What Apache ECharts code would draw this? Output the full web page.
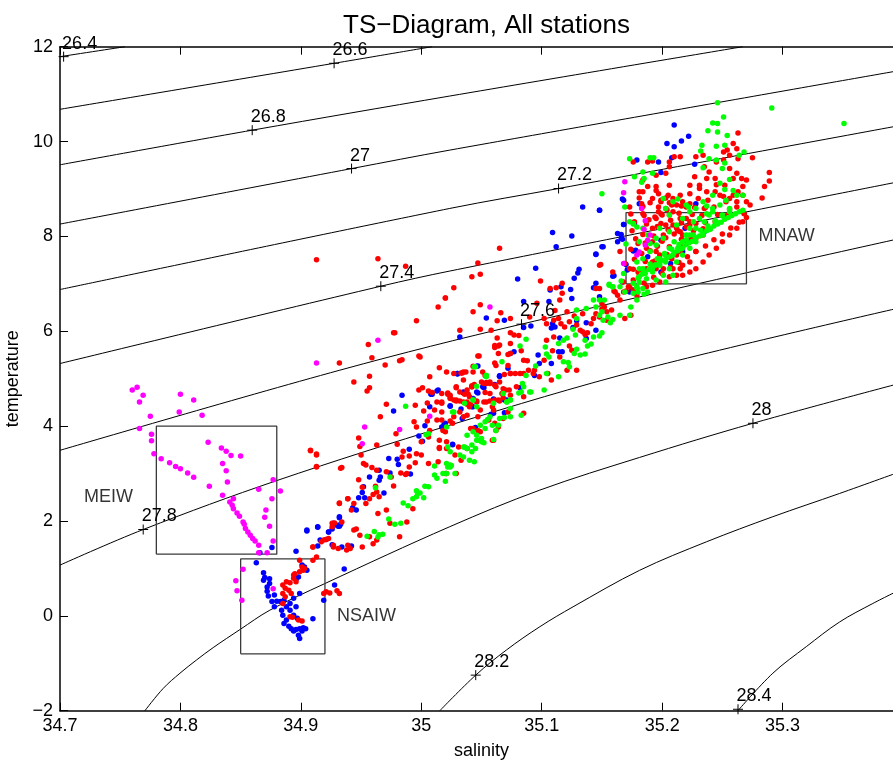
<!DOCTYPE html>
<html><head><meta charset="utf-8">
<script src="https://cdn.jsdelivr.net/npm/echarts@6/dist/echarts.min.js"></script>
<style>html,body{margin:0;padding:0;background:#fff}#c{width:893px;height:760px}</style>
</head><body><div id="c"></div>
<script>
// ---------- axis ranges ----------
const salinityRange = [34.7, 35.4];
const temperatureRange = [-2, 12];

// ---------- isopycnal contours (sigma-theta) ----------
const isoLevels = ['26.4','26.6','26.8','27','27.2','27.4','27.6','27.8','28','28.2','28.4'];
const iso264 = [[34.7,11.79],[34.754,12.0]];
const iso266 = [[34.7,10.68],[34.9276,11.65],[35.009,12.0]];
const iso268 = [[34.7,9.51],[34.8596,10.24],[35.0237,10.96],[35.267,12.0]];
const iso270 = [[34.7,8.26],[34.9421,9.43],[35.0237,9.82],[35.4,11.51]];
const iso272 = [[34.7,6.88],[35.0237,8.59],[35.114,9.01],[35.4,10.35]];
const iso274 = [[34.7,5.32],[34.9664,6.95],[35.0237,7.27],[35.4,9.17]];
const iso276 = [[34.7,3.49],[34.9324,5.18],[35.0832,6.15],[35.4,7.97]];
const iso278 = [[34.7,1.07],[34.7691,1.82],[34.8798,2.85],[35.0237,4.02],[35.1813,5.18],[35.4,6.51]];
const iso280 = [[34.7705,-2.0],[34.7857,-1.53],[34.7996,-1.21],[34.8134,-0.93],[34.8272,-0.67],[34.8494,-0.29],[34.8743,0.12],[34.9199,0.68],[35.0237,1.88],[35.0983,2.65],[35.1813,3.34],[35.2754,4.06],[35.4,4.92]];
const iso282 = [[35.0154,-2.0],[35.0452,-1.25],[35.0707,-0.72],[35.0984,-0.23],[35.126,0.19],[35.1813,0.96],[35.2367,1.56],[35.2919,2.09],[35.3473,2.58],[35.4,3.06]];
const iso284 = [[35.2629,-2.0],[35.2919,-1.21],[35.3197,-0.65],[35.3473,-0.13],[35.3749,0.26],[35.4,0.58]];
const isoLabelPts = [[34.703,11.79],[34.9276,11.65],[34.8596,10.24],[34.9421,9.43],[35.114,9.01],[34.9664,6.95],[35.0832,6.15],[34.7691,1.82],[35.2754,4.06],[35.0452,-1.25],[35.263,-1.97]];

// ---------- water mass boxes [Smin, Smax, Tmin, Tmax] and labels ----------
const boxMEIW = [34.78, 34.88, 1.3, 4.0];
const boxNSAIW = [34.85, 34.92, -0.8, 1.2];
const boxMNAW = [35.17, 35.27, 7.0, 8.5];
const boxNames = ['MEIW', 'NSAIW', 'MNAW'];
const boxNamePts = [[34.72, 2.5], [34.93, 0.0], [35.28, 8.0]];

// ---------- station data [salinity, temperature] ----------
const stationMagenta = [[34.760,4.76],[34.764,4.82],[34.769,4.65],[34.766,4.51],[34.800,4.67],[34.811,4.55],[34.799,4.30],[34.775,4.21],[34.818,4.23],[34.766,3.95],[34.776,3.83],[34.776,3.69],[34.778,3.42],[34.784,3.31],[34.791,3.23],[34.796,3.15],[34.800,3.10],[34.806,3.01],[34.811,2.92],[34.824,2.73],[34.823,3.66],[34.834,3.54],[34.838,3.47],[34.842,3.38],[34.850,3.37],[34.835,3.21],[34.838,3.06],[34.839,2.82],[34.835,2.54],[34.841,2.40],[34.843,2.33],[34.844,2.26],[34.847,2.17],[34.849,2.10],[34.852,1.98],[34.853,1.93],[34.854,1.84],[34.856,1.77],[34.858,1.70],[34.860,1.63],[34.862,1.58],[34.865,1.49],[34.865,1.33],[34.872,1.33],[34.844,2.47],[34.877,2.87],[34.883,2.63],[34.865,2.67],[34.876,2.47],[34.871,2.23],[34.870,2.08],[34.874,1.89],[34.877,1.58],[34.852,0.98],[34.846,0.74],[34.847,0.53],[34.851,0.33],[34.877,0.57],[34.913,5.33],[34.964,5.81],[34.953,3.98],[34.951,3.63],[34.982,3.93],[35.007,4.21],[35.057,6.51],[35.168,8.92],[35.183,8.59],[35.186,8.33],[35.185,8.15],[35.190,8.03],[35.188,7.92],[35.186,7.82],[35.181,7.67],[35.179,7.61],[35.168,7.43],[35.169,9.15]];

const stationBlue = [[34.863,1.12],[34.869,0.91],[34.870,0.81],[34.869,0.75],[34.874,0.78],[34.874,0.68],[34.872,0.61],[34.872,0.52],[34.873,0.42],[34.878,0.44],[34.876,0.30],[34.878,0.19],[34.880,0.31],[34.883,0.30],[34.886,0.33],[34.884,0.12],[34.885,0.01],[34.888,0.19],[34.891,0.26],[34.894,0.37],[34.896,0.19],[34.891,0.12],[34.894,0.01],[34.888,-0.09],[34.886,-0.16],[34.890,-0.22],[34.892,-0.27],[34.894,-0.32],[34.896,-0.29],[34.899,-0.27],[34.902,-0.25],[34.904,-0.27],[34.901,-0.32],[34.898,-0.41],[34.899,-0.48],[34.897,-0.05],[34.899,0.47],[34.901,1.07],[34.903,1.03],[34.905,0.96],[34.898,0.82],[34.896,0.77],[34.910,-0.06],[34.919,0.33],[34.928,0.65],[34.931,1.89],[34.933,1.93],[34.932,2.09],[34.927,1.95],[34.923,1.77],[34.914,1.88],[34.905,1.79],[34.914,1.47],[34.916,1.60],[34.896,1.36],[34.876,1.44],[34.866,1.33],[34.936,0.99],
[35.032,5.88],[35.030,5.11],[35.047,5.27],[35.065,5.05],[35.061,4.88],[35.052,4.81],[35.047,4.70],[35.035,4.71],[35.043,4.58],[35.060,4.57],[35.043,4.41],[35.033,4.36],[35.034,4.16],[35.045,3.97],[35.069,4.28],[35.058,4.25],[35.024,4.42],[35.014,4.76],[35.008,4.67],[35.007,4.41],[35.017,3.98],[35.019,4.04],[35.003,4.01],[35.001,3.68],[34.998,3.79],[34.990,3.51],[34.984,4.65],[34.977,4.32],[35.026,3.61],[34.973,3.32],[34.980,3.30],[34.981,3.19],[34.965,3.07],[34.974,3.01],[34.965,2.86],[34.966,2.93],[34.957,2.93],[34.952,2.72],[34.951,2.60],[34.953,2.49],[34.948,2.49],[34.969,2.59],[34.943,2.28],[34.946,2.23],[34.932,2.07],[34.932,1.89],[34.930,1.91],[34.926,1.83],[34.923,1.77],[34.914,1.87],[34.905,1.81],[34.921,1.61],[34.926,1.50],[34.942,1.47],[34.934,1.45],[34.991,2.99],[35.072,5.22],[35.071,4.55],
[35.134,8.62],[35.148,8.55],[35.168,8.76],[35.168,8.25],[35.166,8.04],[35.163,7.89],[35.167,7.94],[35.151,7.78],[35.145,7.63],[35.131,7.31],[35.130,7.23],[35.127,7.12],[35.109,8.08],[35.125,8.01],[35.112,7.78],[35.095,7.33],[35.080,7.10],[35.107,6.87],[35.116,6.94],[35.124,6.88],[35.125,6.69],[35.106,6.63],[35.085,6.63],[35.054,6.28],[35.069,6.23],[35.091,6.11],[35.109,6.16],[35.111,6.09],[35.108,6.07],[35.115,5.86],[35.126,6.08],[35.129,6.22],[35.137,6.18],[35.137,5.85],[35.145,6.02],[35.143,6.92],[35.145,7.01],[35.148,6.73],[35.159,7.16],[35.167,7.04],[35.170,7.41],[35.175,6.87],[35.178,7.71],[35.171,7.29],[35.077,5.57],[35.074,5.53],[35.097,5.50],[35.098,5.32],[35.108,5.32],[35.114,5.57],[35.117,5.57],[35.065,5.06],[35.046,5.26],[35.030,5.11],[35.035,4.70],[35.013,4.74],[35.009,4.67],[35.085,6.08],
[35.210,10.35],[35.222,10.11],[35.216,10.01],[35.204,9.96],[35.210,9.89],[35.179,9.61],[35.197,9.57],[35.208,9.66],[35.227,9.52],[35.199,9.35],[35.167,8.79],[35.181,8.69],[35.148,8.55],[35.168,8.25],[35.177,8.27],[35.166,7.96],[35.163,8.06],[35.150,7.78],[35.145,7.62],[35.160,7.17],[35.228,8.69],[35.199,7.92],[35.220,7.85],[35.235,8.10],[35.217,7.68],[35.207,7.43],[35.176,7.69],[35.188,7.57],[35.219,8.17],[35.199,7.25],[35.173,6.83],
[35.030,5.10],[35.065,5.05],[35.082,4.81],[35.094,5.07],[35.051,4.83],[35.046,4.72],[35.035,4.72],[35.024,4.43],[35.042,4.41],[35.069,4.55],[35.020,4.06],[35.026,3.62],[35.060,4.27]];

const stationRed = [[34.885,0.65],[34.888,0.72],[34.891,0.70],[34.894,0.79],[34.896,0.72],[34.887,0.58],[34.885,0.47],[34.890,0.54],[34.892,0.47],[34.887,0.40],[34.885,0.26],[34.891,-0.02],[34.893,-0.03],[34.898,-0.09],[34.901,-0.11],[34.894,0.86],[34.895,0.89],[34.899,0.93],[34.901,1.03],[34.902,0.96],[34.899,1.17],[34.903,1.00],[34.910,1.45],[34.913,1.24],[34.919,0.47],[34.921,0.51],[34.924,0.48],[34.930,0.53],[34.932,0.47],[34.908,3.48],[34.913,3.41],[34.913,3.14],[34.933,3.11],[34.932,2.37],[34.939,2.47],[34.926,1.88],[34.927,1.49],[34.931,1.42],[34.938,1.39],[34.910,1.17],[34.921,1.61],
[34.978,5.97],[34.956,5.72],[34.959,5.44],[34.932,5.33],[34.970,5.29],[34.982,5.38],[34.984,5.40],[34.998,5.48],[34.957,5.05],[34.944,4.93],[34.957,4.81],[34.955,4.74],[34.971,4.46],[34.966,4.20],[34.948,3.75],[34.949,3.57],[34.908,3.49],[34.913,3.39],[34.913,3.15],[34.934,3.13],[34.950,3.39],[34.963,3.60],[34.979,3.84],[34.980,3.62],[34.984,3.35],[34.985,3.47],[34.990,3.37],[34.996,3.42],[34.995,3.23],[34.990,3.14],[35.006,3.21],[35.014,3.25],[35.000,3.67],[35.006,3.77],[35.007,3.91],[34.996,3.98],[34.994,4.09],[35.005,4.11],[35.002,4.32],[34.995,4.44],[34.998,4.76],[35.001,4.81],[35.006,4.74],[35.005,4.49],[35.013,4.51],[35.017,4.51],[35.022,4.70],[35.015,5.23],[35.021,5.14],[35.027,5.11],[35.029,4.81],[35.034,5.12],[35.037,5.14],[35.043,5.14],[35.047,5.48],[35.051,5.14],[35.061,5.33],[35.064,5.69],[35.061,5.66],[35.072,5.51],[35.052,4.90],[35.054,4.90],[35.057,4.93],[35.042,4.83],[35.038,4.76],[35.036,4.67],[35.024,4.58],[35.027,4.55],[35.029,4.53],[35.032,4.53],[35.035,4.51],[35.038,4.46],[35.041,4.46],[35.046,4.53],[35.052,4.51],[35.057,4.53],[35.061,4.55],[35.065,4.53],[35.068,4.60],[35.057,4.69],[35.062,4.83],[35.070,4.76],[35.047,4.20],[35.047,3.91],[35.041,3.95],[35.035,4.20],[35.038,4.23],[35.024,4.11],[35.018,3.91],[35.015,3.70],[35.015,3.55],[35.021,3.53],[35.027,4.20],[35.017,4.30],[35.013,4.13],[35.011,4.34],[34.983,3.01],[34.987,2.98],[34.988,3.00],[34.977,2.74],[34.975,2.93],[34.971,3.04],[34.963,3.07],[34.959,3.13],[34.954,3.18],[34.952,3.21],[34.948,2.87],[34.951,2.71],[34.962,2.73],[34.963,2.61],[34.965,2.51],[34.960,2.56],[34.957,2.47],[34.954,2.37],[34.944,2.37],[34.942,2.23],[34.939,2.47],[34.932,2.38],[34.964,2.16],[34.971,2.23],[34.993,2.26],[35.000,3.39],[34.926,1.95],[34.928,1.96],[34.934,1.98],[34.923,1.63],[34.919,1.60],[34.917,1.56],[34.927,1.45],[34.910,1.45],[34.944,1.81],[34.946,1.83],[34.939,1.49],[34.941,1.42],[34.949,1.70],[34.951,1.45],[34.957,1.67],[34.960,1.52],[34.963,1.60],[34.974,1.95],[34.982,1.67],[34.988,1.98],[35.021,3.00],[35.029,3.00],[35.038,3.53],[35.074,5.53],[35.059,4.41],[35.068,4.16],[35.060,3.70],[35.056,4.13],[35.064,3.98],
[35.065,7.75],[35.047,7.44],[35.042,7.15],[35.049,7.20],[35.027,6.92],[35.020,6.70],[35.014,6.51],[35.049,6.56],[35.043,6.41],[35.066,6.39],[35.063,6.22],[35.074,6.27],[35.032,6.02],[35.049,6.04],[35.058,6.02],[35.063,5.86],[35.074,5.97],[35.077,5.92],[35.081,5.91],[35.061,5.70],[35.065,5.71],[35.048,5.48],[35.064,5.53],[35.074,5.74],[35.083,5.59],[35.085,5.39],[35.088,5.38],[35.099,7.06],[35.107,6.90],[35.117,7.01],[35.112,6.92],[35.117,6.80],[35.115,6.66],[35.111,6.44],[35.096,6.59],[35.090,6.30],[35.102,6.27],[35.104,6.16],[35.110,6.23],[35.114,6.27],[35.116,6.16],[35.119,6.09],[35.123,6.20],[35.127,6.32],[35.129,6.13],[35.132,6.02],[35.134,5.99],[35.136,5.93],[35.138,5.97],[35.141,6.16],[35.143,6.27],[35.145,6.37],[35.148,6.30],[35.150,6.47],[35.152,6.51],[35.154,6.41],[35.150,6.59],[35.158,6.45],[35.163,6.76],[35.168,6.83],[35.170,6.85],[35.172,6.94],[35.176,6.87],[35.179,6.76],[35.165,6.66],[35.160,6.85],[35.149,7.41],[35.159,7.25],[35.180,7.25],[35.174,6.34],[35.169,6.27],[35.154,6.23],[35.134,6.37],[35.121,6.41],[35.110,5.88],[35.104,5.81],[35.109,5.59],[35.115,5.46],[35.125,5.60],[35.123,5.69],[35.102,5.39],[35.108,4.97],[35.105,5.11],[35.098,5.04],[35.093,5.11],[35.094,5.18],[35.085,5.11],[35.078,5.11],[35.074,5.11],[35.069,5.09],[35.065,4.93],[35.054,4.92],[35.050,4.93],[35.044,4.88],[35.042,4.85],[35.035,4.97],[35.033,5.12],[35.029,4.83],[35.022,4.67],[35.024,4.60],[35.039,4.67],[35.040,4.62],[35.053,4.71],[35.068,4.79],[35.073,4.76],[35.079,4.83],[35.089,5.18],[35.062,5.28],[35.072,5.28],[35.043,5.26],[35.007,5.04],[35.009,4.71],[34.999,5.46],
[35.263,10.18],[35.259,9.96],[35.262,9.85],[35.254,9.82],[35.251,9.78],[35.263,9.64],[35.275,9.66],[35.262,9.33],[35.266,9.22],[35.270,9.19],[35.289,9.35],[35.289,9.17],[35.285,9.05],[35.267,9.05],[35.263,8.94],[35.267,8.87],[35.259,8.87],[35.256,8.80],[35.251,8.84],[35.262,8.73],[35.270,8.73],[35.273,8.66],[35.253,8.73],[35.248,8.87],[35.244,8.94],[35.237,9.22],[35.227,9.26],[35.206,9.08],[35.195,9.05],[35.188,9.05],[35.184,8.94],[35.197,8.90],[35.205,8.87],[35.209,8.80],[35.215,8.87],[35.223,8.90],[35.230,8.80],[35.231,9.01],[35.237,8.94],[35.238,8.76],[35.235,8.59],[35.223,8.69],[35.220,8.62],[35.217,8.73],[35.212,8.66],[35.208,8.66],[35.203,8.59],[35.199,8.73],[35.192,8.80],[35.190,8.71],[35.181,8.81],[35.183,8.69],[35.184,8.48],[35.197,8.52],[35.199,8.48],[35.206,8.45],[35.209,8.52],[35.215,8.38],[35.220,8.38],[35.223,8.31],[35.228,8.27],[35.209,8.24],[35.212,8.17],[35.215,8.10],[35.217,8.03],[35.203,8.24],[35.199,8.27],[35.195,8.38],[35.192,8.17],[35.201,8.03],[35.192,7.89],[35.187,7.75],[35.195,7.68],[35.198,7.61],[35.203,7.61],[35.208,7.53],[35.212,7.61],[35.215,7.68],[35.217,7.82],[35.223,7.89],[35.228,7.96],[35.234,8.03],[35.192,7.46],[35.195,7.32],[35.201,7.32],[35.209,7.32],[35.215,7.32],[35.217,7.39],[35.223,7.46],[35.228,7.68],[35.187,7.32],[35.181,7.18],[35.176,7.08],[35.168,7.04],[35.173,6.94],[35.179,6.90],[35.187,6.94],[35.192,6.97],[35.198,7.04],[35.206,7.15],[35.212,7.18],[35.217,7.18],[35.223,7.25],[35.228,7.32],[35.234,7.46],[35.239,7.61],[35.245,7.75],[35.250,7.89],[35.256,8.03],[35.262,8.17],[35.267,8.31],[35.268,8.48],[35.173,7.32],[35.165,7.68],[35.169,7.43],[35.148,7.39],[35.145,6.90],[35.148,6.90],[35.161,6.83],[35.210,9.68],[35.215,9.68],[35.206,9.57],[35.206,9.47],[35.192,9.59],[35.188,9.57],[35.203,9.33],[35.195,9.29],[35.184,9.19],[35.181,8.94],[35.195,8.97],[35.256,9.71],[35.251,9.61],[35.256,9.43],[35.259,9.22],[35.252,9.08],[35.245,9.09],[35.244,9.22],[35.231,9.08],[35.223,9.08],[35.235,9.47],[35.245,9.57],[35.234,9.71],[35.228,9.68],[35.239,9.36],[35.176,9.57],[35.173,8.62],[35.199,8.76],[35.203,8.81],
[35.176,7.31],[35.177,7.52],[35.174,7.73],[35.178,7.95],[35.175,8.12],[35.177,8.31],[35.174,8.47],[35.184,7.27],[35.186,7.47],[35.183,7.64],[35.186,7.86],[35.184,8.04],[35.187,8.26],[35.185,8.44],[35.184,8.63],[35.194,7.48],[35.196,7.79],[35.193,8.01],[35.196,8.21],[35.194,8.41],[35.197,8.62],[35.204,7.62],[35.206,7.78],[35.203,7.97],[35.205,8.14],[35.207,8.34],[35.204,8.56],[35.206,8.71],[35.214,7.77],[35.216,7.94],[35.213,8.12],[35.216,8.29],[35.214,8.49],[35.216,8.64],[35.224,7.97],[35.226,8.12],[35.223,8.24],[35.225,8.46],[35.227,8.61],[35.234,8.16],[35.236,8.29],[35.233,8.44],[35.236,8.61],[35.244,8.31],[35.246,8.46],[35.243,8.62],[35.254,8.44],[35.256,8.57],[35.262,8.62],[35.190,7.70],[35.200,7.90],[35.210,8.05],[35.220,8.20],[35.200,8.45],[35.189,8.35],[35.180,7.85],
[35.185,7.02],[35.193,7.14],[35.200,7.22],[35.207,7.35],[35.214,7.45],[35.221,7.57],[35.228,7.68],[35.236,7.80],[35.243,7.93],[35.250,8.05],[35.257,8.18],[35.264,8.30],[35.270,8.40],
[35.035,5.14],[35.053,5.07],[35.074,5.11],[35.082,5.11],[35.121,5.18],[35.129,5.18],[35.017,4.69],[35.024,4.65],[35.032,4.72],[35.042,4.83],[35.057,4.90],[35.061,4.86],[35.067,4.69],[35.074,4.65],[35.085,4.62],[35.017,4.48],[35.029,4.55],[35.038,4.51],[35.046,4.51],[35.054,4.51],[35.064,4.55],[35.049,4.34],[35.060,4.34],[35.072,4.30],[35.085,4.27],[35.020,3.88],[35.032,4.30],[35.040,4.41],[35.021,3.67],[35.031,3.56],[35.043,3.95],[35.049,3.88],[35.061,4.06],[35.062,3.91],[35.059,3.70],[35.033,3.28],[35.028,3.39],[35.020,3.00],[35.015,3.53],[35.026,4.06],[35.017,4.13],
[34.913,7.51],[34.964,7.53],[34.987,7.37],[35.020,6.70],[34.996,6.22],[34.977,5.97],[35.283,8.81]];

const stationGreen = [[35.045,5.25],[35.054,5.04],[35.067,5.36],[35.068,4.69],[35.071,4.51],[35.074,4.55],[35.069,4.18],[35.059,4.02],[35.062,3.91],[35.053,4.09],[35.055,4.14],[35.046,4.41],[35.043,4.55],[35.027,4.30],[35.021,3.98],[35.022,3.56],[35.024,3.46],[35.035,3.56],[35.038,3.53],[35.042,3.60],[35.045,3.53],[35.050,3.74],[35.048,3.70],[35.052,3.65],[35.060,3.72],[35.043,3.88],[35.038,3.81],[35.040,3.28],[35.035,3.35],[35.032,3.39],[35.021,3.21],[35.024,3.14],[35.025,3.17],[35.011,3.16],[35.011,2.97],[35.018,3.00],[35.020,2.84],[35.013,2.90],[35.003,2.73],[35.006,2.72],[34.996,2.64],[34.997,2.58],[34.999,2.59],[35.002,2.49],[34.996,2.51],[34.993,2.47],[34.985,2.38],[34.989,2.32],[35.004,3.82],[35.006,3.84],[34.987,4.42],[34.974,2.93],[34.962,2.70],[34.973,2.04],[34.978,1.93],[34.983,1.95],[34.961,1.78],[34.965,1.71],[34.968,1.72],[34.955,1.68],[34.964,1.66],
[35.169,8.62],[35.176,8.26],[35.179,8.20],[35.170,7.84],[35.156,6.99],[35.159,6.94],[35.166,7.06],[35.176,7.01],[35.179,6.92],[35.179,6.66],[35.174,6.51],[35.173,6.34],[35.165,6.34],[35.157,6.18],[35.159,6.25],[35.155,6.30],[35.151,6.23],[35.148,6.34],[35.150,6.41],[35.145,6.51],[35.148,6.66],[35.143,6.66],[35.152,6.66],[35.137,6.48],[35.129,6.45],[35.129,6.27],[35.126,6.04],[35.128,5.92],[35.136,5.81],[35.143,5.88],[35.148,5.90],[35.150,5.97],[35.138,5.69],[35.141,5.73],[35.129,5.62],[35.132,5.50],[35.136,5.52],[35.127,5.53],[35.118,5.81],[35.121,5.86],[35.114,5.74],[35.104,5.52],[35.106,5.46],[35.118,5.36],[35.122,5.34],[35.123,5.25],[35.103,5.67],[35.095,5.27],[35.082,5.69],[35.087,5.83],[35.046,4.84],[35.054,5.07],[35.084,4.90],[35.085,4.83],[35.091,4.72],[35.102,4.76],[35.081,4.70],[35.044,5.25],
[35.246,10.82],[35.291,10.71],[35.251,10.52],[35.242,10.39],[35.246,10.38],[35.238,10.23],[35.246,10.20],[35.254,10.13],[35.245,9.90],[35.252,9.92],[35.233,9.92],[35.232,9.80],[35.239,9.64],[35.234,9.45],[35.245,9.61],[35.252,9.55],[35.250,9.43],[35.264,9.71],[35.268,9.78],[35.256,9.20],[35.248,9.12],[35.252,8.99],[35.259,8.97],[35.242,8.87],[35.234,8.73],[35.262,8.87],[35.267,8.87],[35.253,8.76],[35.248,8.66],[35.242,8.59],[35.237,8.48],[35.231,8.38],[35.226,8.31],[35.223,8.17],[35.220,8.03],[35.217,7.89],[35.213,7.75],[35.209,7.61],[35.203,7.46],[35.198,7.39],[35.192,7.25],[35.187,7.11],[35.181,7.04],[35.179,6.94],[35.184,6.90],[35.188,6.83],[35.256,8.59],[35.250,8.45],[35.245,8.31],[35.239,8.17],[35.234,8.03],[35.228,7.89],[35.223,7.75],[35.217,7.61],[35.212,7.46],[35.206,7.32],[35.201,7.18],[35.195,7.08],[35.209,7.18],[35.203,7.04],[35.239,8.45],[35.235,8.31],[35.228,8.17],[35.223,8.03],[35.217,7.75],[35.210,7.89],[35.206,7.75],[35.202,7.64],[35.198,7.53],[35.194,7.39],[35.190,7.32],[35.185,7.25],[35.181,7.32],[35.179,7.46],[35.184,7.53],[35.190,7.68],[35.195,7.82],[35.201,7.96],[35.206,8.10],[35.212,8.24],[35.217,8.38],[35.223,8.52],[35.228,8.59],[35.206,8.45],[35.203,8.59],[35.209,8.73],[35.201,8.80],[35.220,8.66],[35.176,8.27],[35.184,8.17],[35.188,8.03],[35.195,7.96],[35.198,8.17],[35.181,7.89],[35.190,7.85],[35.173,9.64],[35.177,9.26],[35.183,9.14],[35.185,9.22],[35.192,9.33],[35.190,9.66],[35.193,9.66],[35.150,8.90],[35.184,9.36],[35.173,8.31],[35.168,7.22],[35.181,7.15],[35.156,6.97],[35.159,6.94],[35.165,6.94],[35.169,6.83],[35.176,6.80],[35.180,6.83],[35.185,6.78],[35.213,8.79],[35.222,8.62],[35.237,8.64],[35.242,8.52],
[35.180,7.12],[35.183,7.20],[35.186,7.22],[35.189,7.30],[35.192,7.33],[35.195,7.40],[35.198,7.44],[35.201,7.50],[35.204,7.55],[35.207,7.58],[35.210,7.66],[35.213,7.70],[35.216,7.74],[35.219,7.82],[35.222,7.86],[35.225,7.90],[35.228,7.97],[35.231,8.01],[35.234,8.06],[35.237,8.12],[35.240,8.15],[35.243,8.22],[35.246,8.26],[35.249,8.30],[35.252,8.36],[35.255,8.40],[35.258,8.44],[35.261,8.48],[35.264,8.52],[35.267,8.55],
[35.184,7.32],[35.190,7.42],[35.196,7.53],[35.202,7.62],[35.208,7.73],[35.214,7.83],[35.220,7.93],[35.226,8.03],[35.232,8.13],[35.238,8.22],[35.244,8.33],[35.250,8.43],[35.256,8.52],
[35.054,5.07],[35.087,5.07],[35.104,5.11],[35.114,5.04],[35.090,4.72],[35.083,4.72],[35.074,4.55],[35.071,4.51],[35.060,4.48],[35.026,4.30],[35.036,4.48],[35.043,4.55],[35.074,4.37],[35.083,4.23],[35.074,4.20],[35.065,4.16],[35.057,4.20],[35.049,4.02],[35.053,3.95],[35.046,3.81],[35.050,3.67],[35.036,3.56],[35.042,3.46],[35.046,3.70],[35.044,3.25],[35.024,3.18],[35.021,3.00],[35.028,3.00],[35.064,4.02],[35.022,3.14],
[35.351,10.38]];

// ---------- chart ----------
const FONT = '"Liberation Sans", Arial, Helvetica, sans-serif';
const fmtNum = v => (Math.round(v * 10) / 10).toString().replace('-', '\u2212');
const isoSets = [iso264, iso266, iso268, iso270, iso272, iso274, iso276, iso278, iso280, iso282, iso284];
const rect = b => [[b[0], b[2]], [b[1], b[2]], [b[1], b[3]], [b[0], b[3]], [b[0], b[2]]];

const series = [];
isoSets.forEach(pts => series.push({
  type: 'line', data: pts, smooth: 0.35, symbol: 'none', silent: true, z: 1,
  lineStyle: { color: '#000', width: 1 }
}));
[boxMEIW, boxNSAIW, boxMNAW].forEach(b => series.push({
  type: 'line', data: rect(b), symbol: 'none', silent: true, z: 2,
  lineStyle: { color: '#3a3a3a', width: 1.3 }
}));
series.push({
  type: 'scatter', data: isoLabelPts, silent: true, z: 5,
  symbol: 'path://M0,5L10,5M5,0L5,10', symbolSize: 10,
  itemStyle: { color: 'none', borderColor: '#000', borderWidth: 1, opacity: 1 },
  label: { show: true, formatter: p => isoLevels[p.dataIndex], position: [6, 3.5],
    align: 'left', verticalAlign: 'bottom', fontFamily: FONT, fontSize: 18, color: '#000' }
});
series.push({
  type: 'scatter', data: boxNamePts, silent: true, z: 5, symbolSize: 1,
  itemStyle: { color: 'rgba(0,0,0,0)' },
  label: { show: true, formatter: p => boxNames[p.dataIndex], position: [0.5, 0.5],
    align: 'left', verticalAlign: 'middle', fontFamily: FONT, fontSize: 18, color: '#000' }
});
const dots = (data, color) => ({
  type: 'scatter', data, symbol: 'circle', symbolSize: 5.5, silent: true, z: 3,
  itemStyle: { color, opacity: 1 }
});
series.push(dots(stationBlue, '#0000ff'));
series.push(dots(stationRed, '#ff0000'));
series.push(dots(stationGreen, '#00ff00'));
series.push(dots(stationMagenta, '#ff00ff'));

const axisCommon = {
  type: 'value', min: salinityRange[0], max: salinityRange[1], interval: 0.1,
  axisLine: { onZero: false, lineStyle: { color: '#000', width: 1.5 } },
  axisTick: { inside: true, length: 8, lineStyle: { color: '#000', width: 1 } },
  splitLine: { show: false }
};

const option = {
  animation: false,
  backgroundColor: '#fff',
  title: {
    text: 'TS\u2212Diagram, All stations', left: 481.5, textAlign: 'center', top: 8,
    textStyle: { fontFamily: FONT, fontSize: 26, fontWeight: 'normal', color: '#000' }
  },
  grid: { left: 60, right: -10, top: 46.7, bottom: 49.3, containLabel: false, outerBoundsMode: 'none' },
  xAxis: [
    Object.assign({}, axisCommon, {
      position: 'bottom', name: 'salinity', nameLocation: 'middle', nameGap: 31,
      nameTextStyle: { fontFamily: FONT, fontSize: 18, color: '#000' },
      axisLabel: { showMaxLabel: false, formatter: fmtNum, fontFamily: FONT, fontSize: 18, color: '#000', margin: 6 }
    }),
    Object.assign({}, axisCommon, { position: 'top', axisLabel: { show: false } })
  ],
  yAxis: {
    type: 'value', min: temperatureRange[0], max: temperatureRange[1], interval: 2,
    name: 'temperature', nameLocation: 'middle', nameGap: 28,
    nameTextStyle: { fontFamily: FONT, fontSize: 18, color: '#000' },
    axisLine: { onZero: false, lineStyle: { color: '#000', width: 1.5 } },
    axisTick: { inside: true, length: 8, lineStyle: { color: '#000', width: 1 } },
    axisLabel: { formatter: fmtNum, fontFamily: FONT, fontSize: 18, color: '#000', margin: 7 },
    splitLine: { show: false }
  },
  series
};
const chart = echarts.init(document.getElementById('c'), null, { renderer: 'canvas' });
chart.setOption(option);
</script>
</body></html>
